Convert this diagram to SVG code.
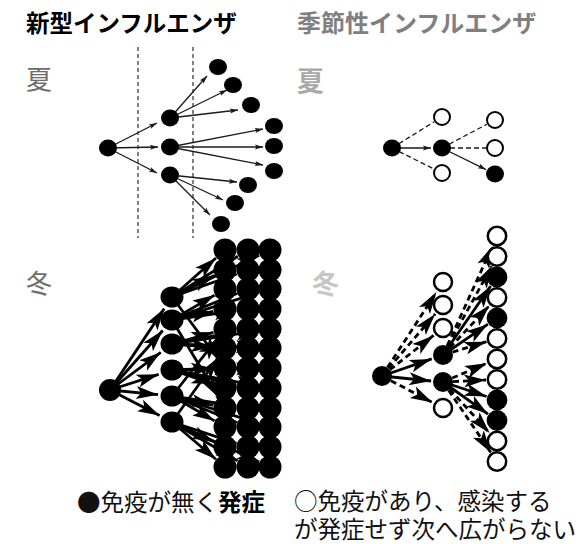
<svg xmlns="http://www.w3.org/2000/svg" width="581" height="547" viewBox="0 0 581 547">
<style>
.bg{fill:#fff}
.t{font-family:"Noto Sans CJK JP","Noto Sans",sans-serif}
.n{fill:#000}
.o{fill:#fff;stroke:#000;stroke-width:2}
.ow{fill:#fff;stroke:#000;stroke-width:2.5}
.g{fill:#000}
.ls{stroke:#1a1a1a;stroke-width:1.3;fill:none}
.lsd{stroke:#1a1a1a;stroke-width:1.3;fill:none;stroke-dasharray:5 3}
.lw{stroke:#000;stroke-width:2.8;fill:none}
.lwd{stroke:#000;stroke-width:2.8;fill:none;stroke-dasharray:6 4}
.vd{stroke:#000;stroke-width:1;fill:none;stroke-dasharray:4 3}
.as{marker-end:url(#ahs)}
.ab{marker-end:url(#ahb)}
</style>
<defs>
<marker id="ahs" markerUnits="userSpaceOnUse" markerWidth="9" markerHeight="6" refX="8" refY="2.5" orient="auto" overflow="visible">
<path d="M0,0 L8,2.5 L0,5 L1.5,2.5 z" fill="#1a1a1a"/>
</marker>
<marker id="ahb" markerUnits="userSpaceOnUse" markerWidth="23" markerHeight="14" refX="22" refY="6.5" orient="auto" overflow="visible">
<path d="M0,0 L22,6.5 L0,13 L5,6.5 z" fill="#000"/>
</marker>
</defs>
<rect class="bg" x="0" y="0" width="581" height="547"/>

<!-- titles and labels -->
<text class="t" x="26" y="32" font-size="23.5" font-weight="bold" fill="#000">新型インフルエンザ</text>
<text class="t" x="297" y="32" font-size="24" font-weight="bold" fill="#7f7f7f">季節性インフルエンザ</text>
<text class="t" x="26" y="89" font-size="26" fill="#6e6e6e">夏</text>
<text class="t" x="297" y="91" font-size="27" font-weight="bold" fill="#a9a9a9">夏</text>
<text class="t" x="26" y="293" font-size="26" fill="#6e6e6e">冬</text>
<text class="t" x="312" y="294" font-size="27" font-weight="bold" fill="#c6c6c6">冬</text>

<!-- connectors -->
<g id="connectors">
  <!-- summer new -->
  <line class="vd" x1="138" y1="47" x2="138" y2="238"/>
  <line class="vd" x1="193" y1="47" x2="193" y2="238"/>
  <line class="ls as" x1="108" y1="148" x2="157" y2="123"/>
  <line class="ls as" x1="108" y1="148" x2="158" y2="147"/>
  <line class="ls as" x1="108" y1="148" x2="157" y2="173"/>
  <line class="ls as" x1="170" y1="118" x2="207" y2="76"/>
  <line class="ls as" x1="170" y1="118" x2="227" y2="90"/>
  <line class="ls as" x1="170" y1="118" x2="238" y2="110"/>
  <line class="ls as" x1="170" y1="147" x2="263" y2="129"/>
  <line class="ls as" x1="170" y1="147" x2="263" y2="147"/>
  <line class="ls as" x1="170" y1="147" x2="263" y2="165"/>
  <line class="ls as" x1="170" y1="175" x2="237" y2="182"/>
  <line class="ls as" x1="170" y1="175" x2="223" y2="200"/>
  <line class="ls as" x1="170" y1="175" x2="210" y2="215"/>
  <!-- summer seasonal -->
  <line class="lsd" x1="392" y1="148" x2="434.3" y2="121.7"/>
  <line class="lsd" x1="392" y1="148" x2="434" y2="169"/>
  <line class="ls as" x1="392" y1="148" x2="431" y2="148"/>
  <line class="lsd" x1="442" y1="148" x2="487" y2="124.2"/>
  <line class="lsd" x1="442" y1="148" x2="486" y2="148"/>
  <line class="ls as" x1="442" y1="148" x2="486" y2="169.6"/>
  <!-- winter new: source to middle -->
  <line class="lw ab" x1="110" y1="390" x2="164.2" y2="308.6"/>
  <line class="lw ab" x1="110" y1="390" x2="162.7" y2="330.5"/>
  <line class="lw ab" x1="110" y1="390" x2="160.8" y2="352.3"/>
  <line class="lw ab" x1="110" y1="390" x2="158.7" y2="374.3"/>
  <line class="lw ab" x1="110" y1="390" x2="158.1" y2="394.7"/>
  <line class="lw ab" x1="110" y1="390" x2="159.6" y2="415.6"/>
  <!-- winter new: middle to grid -->
  <line class="lw ab" x1="172" y1="297" x2="259.2" y2="255.2"/>
  <line class="lw ab" x1="172" y1="297" x2="217.8" y2="358.4"/>
  <line class="lw ab" x1="172" y1="297" x2="237.8" y2="256.3"/>
  <line class="lw ab" x1="172" y1="297" x2="236.7" y2="274"/>
  <line class="lw ab" x1="172" y1="297" x2="216" y2="258"/>
  <line class="lw ab" x1="172" y1="297" x2="214.3" y2="275.4"/>
  <line class="lw ab" x1="172" y1="320" x2="258.6" y2="292.6"/>
  <line class="lw ab" x1="172" y1="320" x2="218.8" y2="397.7"/>
  <line class="lw ab" x1="172" y1="320" x2="236.9" y2="293.5"/>
  <line class="lw ab" x1="172" y1="320" x2="236.1" y2="310.7"/>
  <line class="lw ab" x1="172" y1="320" x2="214.6" y2="295.1"/>
  <line class="lw ab" x1="172" y1="320" x2="213.3" y2="311.4"/>
  <line class="lw ab" x1="172" y1="344" x2="258.1" y2="330.8"/>
  <line class="lw ab" x1="172" y1="344" x2="258" y2="347.5"/>
  <line class="lw ab" x1="172" y1="344" x2="236.2" y2="331.3"/>
  <line class="lw ab" x1="172" y1="344" x2="236" y2="347.4"/>
  <line class="lw ab" x1="172" y1="344" x2="213.5" y2="332.3"/>
  <line class="lw ab" x1="172" y1="344" x2="213" y2="347.1"/>
  <line class="lw ab" x1="172" y1="370" x2="258" y2="368.2"/>
  <line class="lw ab" x1="172" y1="370" x2="258.2" y2="385.8"/>
  <line class="lw ab" x1="172" y1="370" x2="236" y2="368.3"/>
  <line class="lw ab" x1="172" y1="370" x2="236.3" y2="385.2"/>
  <line class="lw ab" x1="172" y1="370" x2="213" y2="368.5"/>
  <line class="lw ab" x1="172" y1="370" x2="213.6" y2="384.1"/>
  <line class="lw ab" x1="172" y1="396" x2="217.5" y2="338.4"/>
  <line class="lw ab" x1="172" y1="396" x2="258.6" y2="423.4"/>
  <line class="lw ab" x1="172" y1="396" x2="236.1" y2="406.1"/>
  <line class="lw ab" x1="172" y1="396" x2="236.9" y2="422.5"/>
  <line class="lw ab" x1="172" y1="396" x2="213.3" y2="405.3"/>
  <line class="lw ab" x1="172" y1="396" x2="214.6" y2="420.9"/>
  <line class="lw ab" x1="172" y1="422" x2="218" y2="357.8"/>
  <line class="lw ab" x1="172" y1="422" x2="259.1" y2="462"/>
  <line class="lw ab" x1="172" y1="422" x2="236.6" y2="443.3"/>
  <line class="lw ab" x1="172" y1="422" x2="237.7" y2="460.9"/>
  <line class="lw ab" x1="172" y1="422" x2="214.2" y2="441.9"/>
  <line class="lw ab" x1="172" y1="422" x2="215.9" y2="459.2"/>
  <!-- winter seasonal: source to middle -->
  <line class="lwd ab" x1="382" y1="376" x2="436.5" y2="292"/>
  <line class="lwd ab" x1="382" y1="376" x2="435.2" y2="314"/>
  <line class="lwd ab" x1="382" y1="376" x2="433.6" y2="335.4"/>
  <line class="lw ab" x1="382" y1="376" x2="431.7" y2="358.9"/>
  <line class="lw ab" x1="382" y1="376" x2="431.1" y2="381"/>
  <line class="lwd ab" x1="382" y1="376" x2="432.4" y2="402.4"/>
  <!-- winter seasonal: middle to right column -->
  <line class="lwd ab" x1="443" y1="355" x2="492.5" y2="246"/>
  <line class="lwd ab" x1="443" y1="355" x2="491.7" y2="266.1"/>
  <line class="lw ab" x1="443" y1="355" x2="490.7" y2="286"/>
  <line class="lwd ab" x1="443" y1="355" x2="489.5" y2="305.5"/>
  <line class="lw ab" x1="443" y1="355" x2="487.9" y2="324.2"/>
  <line class="lwd ab" x1="443" y1="355" x2="486.5" y2="341.7"/>
  <line class="lwd ab" x1="443" y1="382" x2="486.9" y2="363.3"/>
  <line class="lwd ab" x1="443" y1="382" x2="486" y2="380"/>
  <line class="lw ab" x1="443" y1="382" x2="486.6" y2="396.5"/>
  <line class="lw ab" x1="443" y1="382" x2="488" y2="414.1"/>
  <line class="lwd ab" x1="443" y1="382" x2="489.6" y2="432.9"/>
  <line class="lwd ab" x1="443" y1="382" x2="490.8" y2="452.4"/>
</g>

<!-- summer new nodes -->
<g id="sn-src"><ellipse class="n" cx="108" cy="148" rx="9" ry="8.5"/></g>
<g id="sn-m1"><ellipse class="n" cx="170" cy="118" rx="9" ry="8.5"/></g>
<g id="sn-m2"><ellipse class="n" cx="170" cy="147" rx="9" ry="8.5"/></g>
<g id="sn-m3"><ellipse class="n" cx="170" cy="175" rx="9" ry="8.5"/></g>
<g id="sn-o1"><ellipse class="n" cx="218" cy="67" rx="9" ry="8"/></g>
<g id="sn-o2"><ellipse class="n" cx="233" cy="85" rx="9" ry="8"/></g>
<g id="sn-o3"><ellipse class="n" cx="251" cy="105" rx="9" ry="8"/></g>
<g id="sn-o4"><ellipse class="n" cx="274" cy="126" rx="9" ry="8"/></g>
<g id="sn-o5"><ellipse class="n" cx="274" cy="146" rx="9" ry="8"/></g>
<g id="sn-o6"><ellipse class="n" cx="274" cy="171" rx="9" ry="8"/></g>
<g id="sn-o7"><ellipse class="n" cx="248" cy="185" rx="9" ry="8"/></g>
<g id="sn-o8"><ellipse class="n" cx="235" cy="203" rx="9" ry="8"/></g>
<g id="sn-o9"><ellipse class="n" cx="221" cy="224" rx="9" ry="8"/></g>

<!-- summer seasonal nodes -->
<g id="ss-src"><ellipse class="n" cx="392" cy="148" rx="9" ry="8.5"/></g>
<g id="ss-m1"><circle class="o" cx="442" cy="117" r="8"/></g>
<g id="ss-m2"><ellipse class="n" cx="442" cy="148" rx="9" ry="8.5"/></g>
<g id="ss-m3"><circle class="o" cx="442" cy="173" r="8"/></g>
<g id="ss-r1"><circle class="o" cx="495" cy="120" r="8"/></g>
<g id="ss-r2"><circle class="o" cx="495" cy="148" r="8"/></g>
<g id="ss-r3"><ellipse class="n" cx="495" cy="174" rx="9" ry="8.5"/></g>

<!-- winter new nodes -->
<g id="wn-src"><circle class="n" cx="110" cy="390" r="11"/></g>
<g id="wn-m1"><ellipse class="n" cx="172" cy="297" rx="11.5" ry="10.5"/></g>
<g id="wn-m2"><ellipse class="n" cx="172" cy="320" rx="11.5" ry="10.5"/></g>
<g id="wn-m3"><ellipse class="n" cx="172" cy="344" rx="11.5" ry="10.5"/></g>
<g id="wn-m4"><ellipse class="n" cx="172" cy="370" rx="11.5" ry="10.5"/></g>
<g id="wn-m5"><ellipse class="n" cx="172" cy="396" rx="11.5" ry="10.5"/></g>
<g id="wn-m6"><ellipse class="n" cx="172" cy="422" rx="11.5" ry="10.5"/></g>
<g id="wn-g-r0-c0"><circle class="g" cx="225" cy="250" r="11.5"/></g>
<g id="wn-g-r0-c1"><circle class="g" cx="248" cy="250" r="11.5"/></g>
<g id="wn-g-r0-c2"><circle class="g" cx="270" cy="250" r="11.5"/></g>
<g id="wn-g-r1-c0"><circle class="g" cx="225" cy="270" r="11.5"/></g>
<g id="wn-g-r1-c1"><circle class="g" cx="248" cy="270" r="11.5"/></g>
<g id="wn-g-r1-c2"><circle class="g" cx="270" cy="270" r="11.5"/></g>
<g id="wn-g-r2-c0"><circle class="g" cx="225" cy="289" r="11.5"/></g>
<g id="wn-g-r2-c1"><circle class="g" cx="248" cy="289" r="11.5"/></g>
<g id="wn-g-r2-c2"><circle class="g" cx="270" cy="289" r="11.5"/></g>
<g id="wn-g-r3-c0"><circle class="g" cx="225" cy="309" r="11.5"/></g>
<g id="wn-g-r3-c1"><circle class="g" cx="248" cy="309" r="11.5"/></g>
<g id="wn-g-r3-c2"><circle class="g" cx="270" cy="309" r="11.5"/></g>
<g id="wn-g-r4-c0"><circle class="g" cx="225" cy="329" r="11.5"/></g>
<g id="wn-g-r4-c1"><circle class="g" cx="248" cy="329" r="11.5"/></g>
<g id="wn-g-r4-c2"><circle class="g" cx="270" cy="329" r="11.5"/></g>
<g id="wn-g-r5-c0"><circle class="g" cx="225" cy="348" r="11.5"/></g>
<g id="wn-g-r5-c1"><circle class="g" cx="248" cy="348" r="11.5"/></g>
<g id="wn-g-r5-c2"><circle class="g" cx="270" cy="348" r="11.5"/></g>
<g id="wn-g-r6-c0"><circle class="g" cx="225" cy="368" r="11.5"/></g>
<g id="wn-g-r6-c1"><circle class="g" cx="248" cy="368" r="11.5"/></g>
<g id="wn-g-r6-c2"><circle class="g" cx="270" cy="368" r="11.5"/></g>
<g id="wn-g-r7-c0"><circle class="g" cx="225" cy="388" r="11.5"/></g>
<g id="wn-g-r7-c1"><circle class="g" cx="248" cy="388" r="11.5"/></g>
<g id="wn-g-r7-c2"><circle class="g" cx="270" cy="388" r="11.5"/></g>
<g id="wn-g-r8-c0"><circle class="g" cx="225" cy="408" r="11.5"/></g>
<g id="wn-g-r8-c1"><circle class="g" cx="248" cy="408" r="11.5"/></g>
<g id="wn-g-r8-c2"><circle class="g" cx="270" cy="408" r="11.5"/></g>
<g id="wn-g-r9-c0"><circle class="g" cx="225" cy="427" r="11.5"/></g>
<g id="wn-g-r9-c1"><circle class="g" cx="248" cy="427" r="11.5"/></g>
<g id="wn-g-r9-c2"><circle class="g" cx="270" cy="427" r="11.5"/></g>
<g id="wn-g-r10-c0"><circle class="g" cx="225" cy="447" r="11.5"/></g>
<g id="wn-g-r10-c1"><circle class="g" cx="248" cy="447" r="11.5"/></g>
<g id="wn-g-r10-c2"><circle class="g" cx="270" cy="447" r="11.5"/></g>
<g id="wn-g-r11-c0"><circle class="g" cx="225" cy="467" r="11.5"/></g>
<g id="wn-g-r11-c1"><circle class="g" cx="248" cy="467" r="11.5"/></g>
<g id="wn-g-r11-c2"><circle class="g" cx="270" cy="467" r="11.5"/></g>

<!-- winter seasonal nodes -->
<g id="ws-src"><circle class="n" cx="382" cy="376" r="10"/></g>
<g id="ws-m1"><circle class="ow" cx="443" cy="282" r="9"/></g>
<g id="ws-m2"><circle class="ow" cx="443" cy="305" r="9"/></g>
<g id="ws-m3"><circle class="ow" cx="443" cy="328" r="9"/></g>
<g id="ws-m4"><circle class="n" cx="443" cy="355" r="10"/></g>
<g id="ws-m5"><circle class="n" cx="443" cy="382" r="10"/></g>
<g id="ws-m6"><circle class="ow" cx="443" cy="408" r="9"/></g>
<g id="ws-r1"><circle class="ow" cx="497" cy="236" r="9.2"/></g>
<g id="ws-r2"><circle class="ow" cx="497" cy="256.5" r="9.2"/></g>
<g id="ws-r3"><circle class="n" cx="497" cy="277" r="10.4"/></g>
<g id="ws-r4"><circle class="ow" cx="497" cy="297.5" r="9.2"/></g>
<g id="ws-r5"><circle class="n" cx="497" cy="318" r="10.4"/></g>
<g id="ws-r6"><circle class="ow" cx="497" cy="338.5" r="9.2"/></g>
<g id="ws-r7"><circle class="ow" cx="497" cy="359" r="9.2"/></g>
<g id="ws-r8"><circle class="ow" cx="497" cy="379.5" r="9.2"/></g>
<g id="ws-r9"><circle class="n" cx="497" cy="400" r="10.4"/></g>
<g id="ws-r10"><circle class="n" cx="497" cy="420.5" r="10.4"/></g>
<g id="ws-r11"><circle class="ow" cx="497" cy="441" r="9.2"/></g>
<g id="ws-r12"><circle class="ow" cx="497" cy="461.5" r="9.2"/></g>

<!-- legend -->
<text class="t" x="77" y="511" font-size="23.5" fill="#111">●免疫が無く<tspan font-weight="bold" fill="#000">発症</tspan></text>
<text class="t" x="294" y="510" font-size="23.5" fill="#111">○免疫があり、感染する</text>
<text class="t" x="294" y="538" font-size="23.5" fill="#111">が発症せず次へ広がらない</text>
</svg>
